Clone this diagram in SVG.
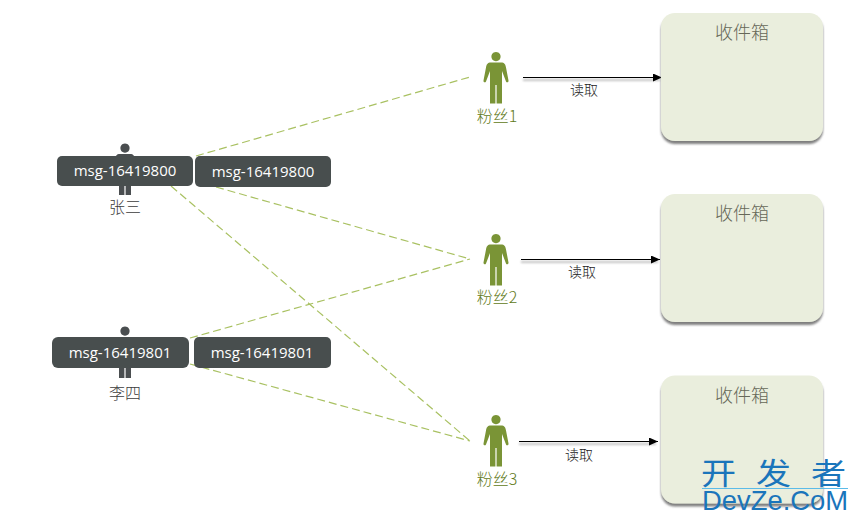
<svg xmlns="http://www.w3.org/2000/svg" width="858" height="523" viewBox="0 0 858 523">
<style>
text{font-family:"Noto Sans CJK SC","Noto Sans",sans-serif;text-anchor:middle;font-weight:300}
.msg rect{fill:#484e4e}
.msg text{fill:#fff;font-family:"Open Sans","Noto Sans",sans-serif;font-size:15px;font-weight:400}
.dash{fill:none;stroke:#a9c162;stroke-width:1.2;stroke-dasharray:8 4}
.read{fill:none;stroke:#000;stroke-width:1.2;marker-end:url(#arr)}
.shadow{fill:#777;fill-opacity:.45;filter:url(#soft)}
.box{fill:#eaeedd;filter:url(#drop)}
.bt{fill:#666858;font-size:18px}
.fan{fill:#7a9436}
.usr{fill:#4a4e50}
.fl{fill:#5f7a20;font-size:16px}
.ul{fill:#3c3c3c;font-size:16px}
.rl{fill:#222;font-size:14px}
.wm{text-anchor:start;font-weight:400;fill:#1a75bb}
</style>
<defs>
<filter id="soft" x="-5%" y="-200%" width="110%" height="500%"><feGaussianBlur stdDeviation="0.8"/></filter>
<filter id="drop" x="-5%" y="-5%" width="110%" height="112%"><feDropShadow dx="0" dy="3" stdDeviation="1.300" flood-color="#555" flood-opacity=".75"/></filter>
<marker id="arr" markerUnits="userSpaceOnUse" markerWidth="9" markerHeight="8" refX="9" refY="4" orient="auto"><path d="M0 0L9 4L0 8z" fill="#000"/></marker>
<path id="person" d="M0-26a4.600 4.600 0 1 1-.01 0zM-5-15.500H5C8.500-15.500 9.500-13.500 10-10.500L12.500 2.500C12.800 4.500 10.600 5 10 3.500L6-7V25.500H.6V7H-.6V25.500H-6V-7L-10 3.500C-10.600 5-12.800 4.500-12.500 2.500L-10-10.500C-9.500-13.500-8.500-15.500-5-15.500z"/>
</defs>
<g id="connectors">
<path class="dash" d="M196 156L470 77"/>
<path class="dash" d="M216 187L470 259"/>
<path class="dash" d="M171 186L470 441"/>
<path class="dash" d="M190 338L470 259"/>
<path class="dash" d="M190 364L470 441"/>
<rect class="shadow" x="523" y="79" width="137" height="2"/><path class="read" d="M523 77.500H662"/>
<rect class="shadow" x="521" y="261" width="137" height="2"/><path class="read" d="M521 259.500H660"/>
<rect class="shadow" x="519" y="443" width="137" height="2"/><path class="read" d="M519 441.500H658"/>
</g>
<g id="user-zhangsan"><use href="#person" x="125" y="169.500" class="usr"/><text class="ul" x="125" y="213">张三</text></g>
<g id="user-lisi"><use href="#person" x="125" y="352.500" class="usr"/><text class="ul" x="125" y="399">李四</text></g>
<g id="msg-a1" class="msg"><rect x="57" y="156" width="136" height="30" rx="5"/><text x="125" y="176">msg-16419800</text></g>
<g id="msg-a2" class="msg"><rect x="195" y="156" width="136" height="31" rx="5"/><text x="263" y="177">msg-16419800</text></g>
<g id="msg-b1" class="msg"><rect x="52" y="337" width="137" height="31" rx="6"/><text x="120" y="358">msg-16419801</text></g>
<g id="msg-b2" class="msg"><rect x="194" y="337" width="137" height="31" rx="5"/><text x="262" y="358">msg-16419801</text></g>
<g id="fan1"><use href="#person" x="496" y="78" class="fan"/><text class="fl" x="497" y="122">粉丝1</text></g>
<g id="fan2"><use href="#person" x="496" y="260" class="fan"/><text class="fl" x="497" y="303">粉丝2</text></g>
<g id="fan3"><use href="#person" x="496" y="441" class="fan"/><text class="fl" x="497" y="485">粉丝3</text></g>
<g id="read1"><text class="rl" x="584" y="95">读取</text></g>
<g id="read2"><text class="rl" x="582" y="277">读取</text></g>
<g id="read3"><text class="rl" x="579" y="460">读取</text></g>
<g id="inbox1"><rect class="box" x="661" y="13" width="162" height="128" rx="14"/><text class="bt" x="742" y="39">收件箱</text></g>
<g id="inbox2"><rect class="box" x="661" y="194" width="162" height="128" rx="14"/><text class="bt" x="742" y="220">收件箱</text></g>
<g id="inbox3"><rect class="box" x="661" y="375.500" width="162" height="128" rx="14"/><text class="bt" x="742" y="402">收件箱</text></g>
<g id="watermark">
<text class="wm" transform="translate(701,484) scale(1.17,1)" x="0 47 94" style="font-size:30px">开发者</text>
<path d="M702 488.500H848" stroke="#5bbbe8" stroke-width="1" fill="none"/>
<text class="wm" x="702" y="510" style="font-family:'Liberation Sans',sans-serif;font-size:27.400px">DevZe.CoM</text>
</g>
</svg>
